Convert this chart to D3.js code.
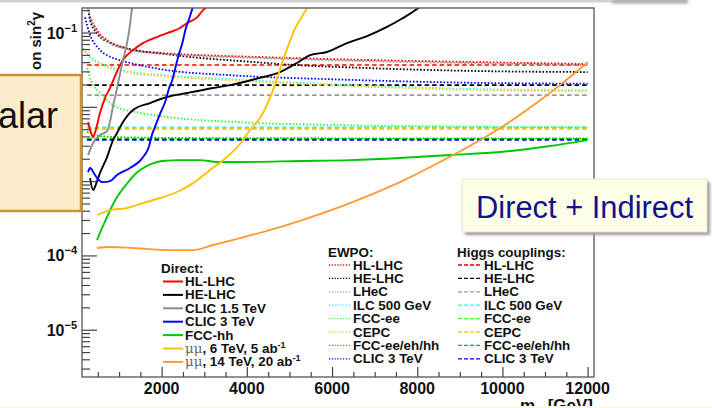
<!DOCTYPE html>
<html><head><meta charset="utf-8">
<script src="https://cdn.jsdelivr.net/npm/d3@7"></script>
<style>
html,body{margin:0;padding:0;background:#fff;}
svg{display:block;}
text{font-family:"Liberation Sans",Arial,Helvetica,sans-serif;}
</style></head><body>
<svg id="chart" width="712" height="408"></svg>
<script>
// ---------- data: scalar mass [GeV] vs reach on sin^2(gamma) ----------
const xTicksMajor = [2000, 4000, 6000, 8000, 10000, 12000];
const xTicksMinorStep = 500;
const yDecades = [-5, -4, -3, -2, -1];

// Direct searches
const directHLLHC = [[270,0.0062],[330,0.0047],[390,0.0039],[450,0.0048],[554,0.0083],[680,0.0135],[789,0.018],[953,0.030],[1094,0.043],[1329,0.058],[1563,0.072],[1892,0.087],[2127,0.098],[2432,0.115],[2596,0.134],[2831,0.16],[2972,0.2],[3100,0.23]];
const directHELHC = [[319,0.0011],[390,0.00076],[470,0.00095],[554,0.00129],[718,0.00211],[859,0.00357],[953,0.00444],[1024,0.00535],[1329,0.00906],[1728,0.01125],[2127,0.01355],[2596,0.01534],[3207,0.0179],[3606,0.0196],[4197,0.0237],[4779,0.0294],[5178,0.0389],[5484,0.0498],[5883,0.0547],[6352,0.0722],[6822,0.0897],[7291,0.119],[7667,0.157],[7996,0.207],[8100,0.23]];
const directCLIC15 = [[272,0.00224],[390,0.00326],[554,0.00417],[718,0.0047],[800,0.0068],[859,0.0103],[920,0.0145],[977,0.0209],[1040,0.031],[1094,0.0427],[1188,0.072],[1250,0.12],[1305,0.214],[1330,0.26]];
const directCLIC3 = [[272,0.00132],[319,0.0015],[420,0.00125],[484,0.0011],[624,0.00097],[789,0.001],[953,0.00121],[1258,0.0015],[1563,0.0021],[1700,0.0029],[1760,0.0040],[1850,0.0055],[1960,0.0080],[2090,0.012],[2170,0.0175],[2250,0.023],[2330,0.035],[2400,0.050],[2480,0.070],[2560,0.11],[2640,0.15],[2720,0.21],[2760,0.25]];
const directFCChh = [[484,0.000161],[601,0.000234],[718,0.000329],[836,0.000462],[953,0.000611],[1188,0.00093],[1425,0.00132],[1657,0.0016],[1892,0.00181],[2127,0.00189],[2362,0.00192],[2901,0.00192],[3300,0.00181],[3840,0.00181],[5249,0.00187],[6423,0.00192],[7596,0.00205],[8770,0.00225],[9944,0.00247],[11117,0.00297],[12000,0.00357]];
const directMuMu6 = [[484,0.00035],[789,0.000408],[1188,0.000434],[1563,0.000507],[1962,0.000593],[2362,0.000714],[2737,0.00094],[3136,0.00141],[3535,0.00211],[3840,0.00316],[4075,0.00488],[4310,0.00707],[4615,0.0168],[4850,0.0427],[5084,0.0985],[5413,0.214],[5500,0.26]];
const directMuMu14 = [[484,0.000126],[789,0.00013],[1329,0.000126],[2127,0.000118],[2737,0.000118],[3207,0.000138],[3840,0.000171],[4779,0.000241],[5718,0.00036],[6657,0.000574],[7596,0.000973],[8535,0.00181],[9357,0.00326],[10061,0.00569],[10765,0.0109],[11352,0.0196],[12009,0.0401]];

// Electroweak precision observables
const ewpoHLLHC = [[240,0.25],[300,0.18],[484,0.108],[789,0.075],[1000,0.066],[1330,0.058],[2000,0.053],[3000,0.0495],[3700,0.048],[5000,0.0455],[7000,0.0425],[9474,0.040],[12000,0.0377]];
const ewpoHELHC = [[290,0.18],[319,0.147],[500,0.095],[789,0.072],[1200,0.061],[2127,0.051],[3000,0.045],[3700,0.042],[5000,0.037],[7000,0.033],[9474,0.0303],[12000,0.0294]];
const ewpoLHeC = [[250,0.23],[320,0.16],[500,0.10],[789,0.072],[1000,0.064],[1330,0.057],[2000,0.052],[3000,0.048],[3700,0.0465],[5000,0.044],[7000,0.041],[9474,0.0385],[12000,0.0365]];
const ewpoILC = [[150,0.062],[300,0.049],[500,0.0405],[718,0.0355],[1200,0.030],[2000,0.0268],[3800,0.0232],[6000,0.0201],[9474,0.0173],[12000,0.0167]];
const ewpoFCCee = [[249,0.0333],[350,0.022],[554,0.0153],[953,0.0099],[1400,0.0085],[2127,0.0073],[3840,0.0062],[6000,0.0057],[9474,0.0054],[12000,0.0053]];
const ewpoCEPC = [[150,0.06],[300,0.047],[500,0.039],[718,0.0344],[1200,0.029],[2000,0.026],[3800,0.0225],[6000,0.0195],[9474,0.0168],[12000,0.0162]];
const ewpoFCCall = [[250,0.0046],[500,0.0041],[1000,0.0039],[3000,0.0038],[12000,0.00375]];
const ewpoCLIC3 = [[200,0.16],[300,0.10],[554,0.058],[800,0.047],[1188,0.040],[2000,0.032],[3700,0.0265],[6000,0.0235],[9474,0.021],[12000,0.0205]];

// Higgs couplings: mass-independent reach
const higgsReach = [0.0366, 0.0196, 0.0144, 0.0053, 0.0051, 0.0050, 0.0037, 0.0036];
const higgsMassRange = [250, 12000];

// Legend labels and colours
const directLabels = ["HL-LHC", "HE-LHC", "CLIC 1.5 TeV", "CLIC 3 TeV", "FCC-hh", "μμ|, 6 TeV, 5 ab|-1", "μμ|, 14 TeV, 20 ab|-1"];
const directColors = ["#ff0000", "#000000", "#8c8c8c", "#0000ff", "#00c800", "#ffc000", "#ff9933"];
const indirectLabels = ["HL-LHC", "HE-LHC", "LHeC", "ILC 500 GeV", "FCC-ee", "CEPC", "FCC-ee/eh/hh", "CLIC 3 TeV"];
const indirectColors = ["#ff0000", "#000000", "#999999", "#22ffff", "#33ff33", "#ffcc22", "#00c000", "#0000ff"];

const directSeries = [directHLLHC, directHELHC, directCLIC15, directCLIC3, directFCChh, directMuMu6, directMuMu14];
const ewpoSeries = [ewpoHLLHC, ewpoHELHC, ewpoLHeC, ewpoILC, ewpoFCCee, ewpoCEPC, ewpoFCCall, ewpoCLIC3];

// ---------- layout ----------
const frame = {l: 82, t: 8, r: 594, b: 377};
const svg = d3.select("#chart");

const x = d3.scaleLinear().domain([130, 12150]).range([frame.l, frame.r]);
const y = d3.scaleLog().domain([2.31e-6, 0.214]).range([frame.b, frame.t]);

const defs = svg.append("defs");
defs.append("clipPath").attr("id", "plotClip")
  .append("rect").attr("x", frame.l).attr("y", frame.t)
  .attr("width", frame.r - frame.l).attr("height", frame.b - frame.t);
defs.append("filter").attr("id", "soft").attr("x", "-20%").attr("y", "-40%").attr("width", "140%").attr("height", "180%")
  .append("feGaussianBlur").attr("stdDeviation", 1.6);

const plot = svg.append("g").attr("clip-path", "url(#plotClip)");
const line = d3.line().x(d => x(d[0])).y(d => y(d[1])).curve(d3.curveMonotoneX);

// Higgs-coupling bands (dashed)
higgsReach.forEach((v, i) => {
  plot.append("path")
    .attr("d", line(higgsMassRange.map(m => [m, v])))
    .attr("fill", "none").attr("stroke", indirectColors[i])
    .attr("stroke-width", 1.7).attr("stroke-dasharray", "4.5 3");
});

// EWPO curves (dotted)
ewpoSeries.forEach((s, i) => {
  plot.append("path").attr("d", line(s))
    .attr("fill", "none").attr("stroke", indirectColors[i])
    .attr("stroke-width", 1.8).attr("stroke-dasharray", "1.6 1.8");
});

// Direct searches (solid)
directSeries.forEach((s, i) => {
  plot.append("path").attr("d", line(s))
    .attr("fill", "none").attr("stroke", directColors[i])
    .attr("stroke-width", 1.9).attr("stroke-linejoin", "round");
});

// ---------- axes ----------
const axisColor = "#444";
const xMinor = d3.range(xTicksMinorStep, 12001, xTicksMinorStep).filter(v => !xTicksMajor.includes(v));
const gx = svg.append("g").attr("transform", `translate(0,${frame.b})`);
gx.call(d3.axisBottom(x).tickValues(xMinor).tickSize(-5).tickFormat(""));
const gx2 = svg.append("g").attr("transform", `translate(0,${frame.b})`);
gx2.call(d3.axisBottom(x).tickValues(xTicksMajor).tickSize(-10).tickFormat(""));
[gx, gx2].forEach(g => {
  g.select(".domain").remove();
  g.selectAll("line").attr("stroke", axisColor).attr("stroke-width", 1.2);
});
svg.append("g").selectAll("text").data(xTicksMajor).join("text")
  .attr("x", d => x(d)).attr("y", 394).attr("text-anchor", "middle")
  .attr("font-size", 16).attr("font-weight", "bold").attr("fill", "#111")
  .text(d => d);

const yMinor = [];
for (let n = -6; n <= -1; n++) for (let k = 2; k <= 9; k++) {
  const v = k * Math.pow(10, n);
  if (v >= y.domain()[0] && v <= y.domain()[1]) yMinor.push(v);
}
const yMajor = yDecades.map(n => Math.pow(10, n));
const gy = svg.append("g").attr("transform", `translate(${frame.l},0)`);
gy.call(d3.axisLeft(y).tickValues(yMinor).tickSize(-8).tickFormat(""));
const gy2 = svg.append("g").attr("transform", `translate(${frame.l},0)`);
gy2.call(d3.axisLeft(y).tickValues(yMajor).tickSize(-15).tickFormat(""));
[gy, gy2].forEach(g => {
  g.select(".domain").remove();
  g.selectAll("line").attr("stroke", axisColor).attr("stroke-width", 1.2);
});
const yl = svg.append("g").selectAll("text").data(yDecades).join("text")
  .attr("x", 77).attr("y", d => y(Math.pow(10, d)) + 6).attr("text-anchor", "end")
  .attr("font-size", 16).attr("font-weight", "bold").attr("fill", "#111");
yl.append("tspan").text("10");
yl.append("tspan").attr("dy", -7).attr("font-size", 11).text(d => "\u2212" + Math.abs(d));

// frame
svg.append("rect").attr("x", frame.l).attr("y", frame.t)
  .attr("width", frame.r - frame.l).attr("height", frame.b - frame.t)
  .attr("fill", "none").attr("stroke", "#555").attr("stroke-width", 1.3);

// axis titles
const xt = svg.append("text").attr("x", 593).attr("y", 411).attr("text-anchor", "end")
  .attr("font-size", 17).attr("font-weight", "bold").attr("fill", "#111");
xt.append("tspan").text("m");
xt.append("tspan").attr("dy", 4).attr("font-size", 11).text("φ");
xt.append("tspan").attr("dy", -4).text(" [GeV]");

const yt = svg.append("text").attr("transform", "translate(41,70) rotate(-90)")
  .attr("font-size", 15).attr("font-weight", "bold").attr("fill", "#111");
yt.append("tspan").text("on sin");
yt.append("tspan").attr("dy", -6).attr("font-size", 10).text("2");
yt.append("tspan").attr("dy", 6).text("γ");

// ---------- legends ----------
const legFont = 13.4;
function labelText(sel, label) {
  const parts = label.split("|");
  if (parts.length === 1) { sel.text(label); return; }
  sel.append("tspan").attr("font-family", "DejaVu Serif, serif").attr("font-weight", "normal")
    .attr("fill", "#666").text(parts[0]);
  sel.append("tspan").text(parts[1]);
  sel.append("tspan").attr("dy", -5).attr("font-size", 9).text(parts[2]);
}

function legend(title, tx, ty, labels, colors, x0, x1, textX, firstY, dash, width) {
  const g = svg.append("g").attr("font-size", legFont).attr("font-weight", "bold").attr("fill", "#111");
  g.append("text").attr("x", tx).attr("y", ty).text(title);
  labels.forEach((lab, i) => {
    const by = firstY + i * 13.4;
    g.append("line").attr("x1", x0).attr("x2", x1).attr("y1", by - 4.5).attr("y2", by - 4.5)
      .attr("stroke", colors[i]).attr("stroke-width", width)
      .attr("stroke-dasharray", dash);
    labelText(g.append("text").attr("x", textX).attr("y", by), lab);
  });
}
legend("Direct:", 161, 273, directLabels, directColors, 163, 183, 185, 286, null, 2);
legend("EWPO:", 328, 257, indirectLabels, indirectColors, 329, 350, 353, 269.5, "1.2 1.6", 1.3);
legend("Higgs couplings:", 457, 257, indirectLabels, indirectColors, 458, 481, 484, 269.5, "4 2", 1.3);

// ---------- slide overlays ----------
svg.append("rect").attr("x", 0).attr("y", 0).attr("width", 613).attr("height", 2.5).attr("fill", "#d2d2d2");
svg.append("rect").attr("x", 612).attr("y", -1).attr("width", 76).attr("height", 4.5).attr("fill", "#a8a8a8").attr("filter", "url(#soft)");
svg.append("rect").attr("x", 0).attr("y", 406).attr("width", 712).attr("height", 2).attr("fill", "#fbfbea");

svg.append("rect").attr("x", -5).attr("y", 75).attr("width", 86).attr("height", 136)
  .attr("fill", "#fdeccb").attr("stroke", "#c8962e").attr("stroke-width", 2.5);
svg.append("text").attr("x", 58).attr("y", 128).attr("text-anchor", "end")
  .attr("font-family", "Lato, 'Open Sans', sans-serif").attr("font-size", 36).attr("fill", "#111")
  .text("Scalar");

svg.append("rect").attr("x", 465).attr("y", 182).attr("width", 245).attr("height", 53)
  .attr("fill", "#9a9a9a").attr("filter", "url(#soft)");
svg.append("rect").attr("x", 462).attr("y", 179).attr("width", 245).attr("height", 53)
  .attr("fill", "#fefde8").attr("stroke", "#e6e3c8").attr("stroke-width", 1);
svg.append("text").attr("x", 476).attr("y", 218)
  .attr("font-family", "Lato, 'Open Sans', sans-serif").attr("font-size", 31).attr("fill", "#12128c")
  .attr("textLength", 217).attr("lengthAdjust", "spacingAndGlyphs")
  .text("Direct + Indirect");
</script>
</body></html>
